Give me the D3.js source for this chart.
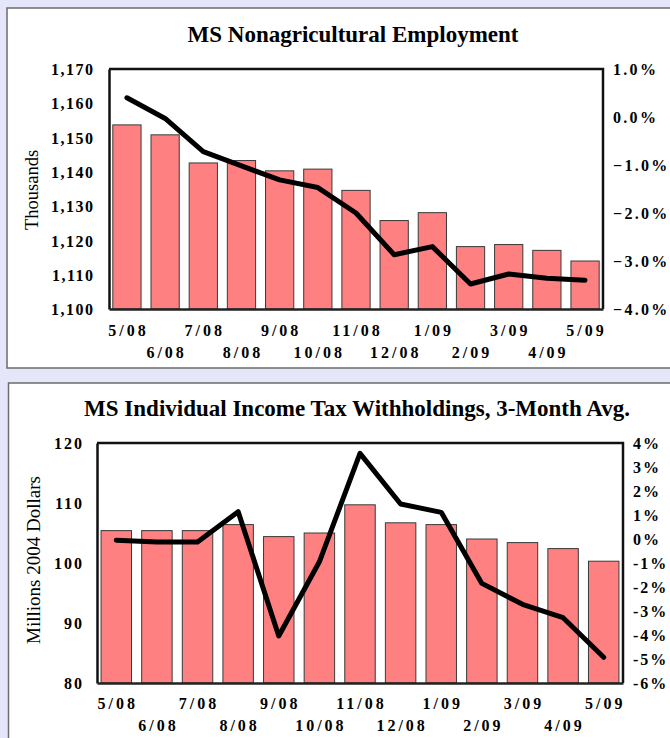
<!DOCTYPE html>
<html>
<head>
<meta charset="utf-8">
<script src="https://cdn.jsdelivr.net/npm/d3@7/dist/d3.min.js"></script>
<style>
  html, body { margin: 0; padding: 0; background: #e6e6fa; }
  svg { display: block; }
  text { font-family: "Liberation Serif", "Times New Roman", serif; fill: #000; }
</style>
</head>
<body>
<svg id="chart" width="670" height="738"></svg>
<script>
// ---------- data ----------
const months = ["5/08","6/08","7/08","8/08","9/08","10/08","11/08","12/08","1/09","2/09","3/09","4/09","5/09"];

// Chart 1: MS Nonagricultural Employment
const empLevels = [1153.7, 1150.8, 1142.6, 1143.3, 1140.3, 1140.8, 1134.6, 1125.8, 1128.1, 1118.2, 1118.8, 1117.1, 1114.0];
const empGrowth = [0.40, -0.03, -0.72, -1.02, -1.31, -1.47, -2.00, -2.87, -2.70, -3.48, -3.27, -3.36, -3.40];
const empLeftTicks = [1100, 1110, 1120, 1130, 1140, 1150, 1160, 1170];
const empRightTicks = [1, 0, -1, -2, -3, -4];

// Chart 2: MS Individual Income Tax Withholdings, 3-Month Avg.
const taxLevels = [105.4, 105.4, 105.4, 106.4, 104.4, 105.0, 109.7, 106.7, 106.4, 104.0, 103.4, 102.4, 100.3];
const taxGrowth = [-0.05, -0.13, -0.13, 1.14, -4.04, -0.95, 3.57, 1.46, 1.11, -1.85, -2.72, -3.28, -4.93];
const taxLeftTicks = [80, 90, 100, 110, 120];
const taxRightTicks = [4, 3, 2, 1, 0, -1, -2, -3, -4, -5, -6];

// ---------- drawing ----------
const svg = d3.select("#chart");
svg.append("rect").attr("width", 670).attr("height", 738).attr("fill", "#e6e6fa");

function drawPanel(cfg) {
  const g = svg.append("g");
  // panel
  g.append("rect")
    .attr("x", cfg.panel[0]).attr("y", cfg.panel[1])
    .attr("width", cfg.panel[2]).attr("height", cfg.panel[3])
    .attr("fill", "#fff").attr("stroke", "#6b6b6b").attr("stroke-width", 1.5);

  const x = d3.scaleBand().domain(months)
    .range([cfg.plot.left, cfg.plot.right])
    .paddingInner(cfg.padInner).paddingOuter(0.1);
  const yL = d3.scaleLinear().domain(cfg.leftDomain).range([cfg.plot.bottom, cfg.plot.top]);
  const yR = d3.scaleLinear().domain(cfg.rightDomain).range([cfg.plot.bottom, cfg.plot.top]);

  // title
  g.append("text")
    .attr("x", cfg.titleX).attr("y", cfg.titleY)
    .attr("text-anchor", "middle")
    .attr("font-size", cfg.titleSize).attr("font-weight", "bold")
    .text(cfg.title);

  // bars
  g.selectAll("rect.bar").data(cfg.levels).enter().append("rect")
    .attr("class", "bar")
    .attr("x", (d, i) => x(months[i]))
    .attr("width", x.bandwidth())
    .attr("y", d => yL(d))
    .attr("height", d => yL(cfg.leftDomain[0]) - yL(d))
    .attr("fill", "#ff8080")
    .attr("stroke", "#3a3a3a").attr("stroke-width", 1);

  // frame top & right
  g.append("path")
    .attr("d", `M${cfg.plot.left},${cfg.plot.top}H${cfg.plot.right}V${cfg.plot.bottom}`)
    .attr("fill", "none").attr("stroke", "#111").attr("stroke-width", 2.5);

  // left axis
  const axL = d3.axisLeft(yL).tickValues(cfg.leftTicks).tickSize(0).tickPadding(0)
    .tickFormat(cfg.leftFormat);
  const gL = g.append("g").attr("transform", `translate(${cfg.plot.left},0)`).call(axL);
  gL.select(".domain").attr("stroke", "#111").attr("stroke-width", 2.5);
  gL.selectAll("text")
    .attr("x", -cfg.leftGap + cfg.tickSpacing)
    .attr("dy", "0.35em")
    .attr("font-size", 16).attr("font-weight", "bold")
    .attr("letter-spacing", cfg.tickSpacing + "px")
    .attr("fill", "#000");

  // right axis
  const axR = d3.axisRight(yR).tickValues(cfg.rightTicks).tickSize(0).tickPadding(0)
    .tickFormat(cfg.rightFormat);
  const gR = g.append("g").attr("transform", `translate(${cfg.plot.right},0)`).call(axR);
  gR.select(".domain").remove();
  gR.selectAll("text")
    .attr("x", 10)
    .attr("dy", "0.35em")
    .attr("font-size", 16).attr("font-weight", "bold")
    .attr("letter-spacing", cfg.rightSpacing + "px")
    .attr("fill", "#000");

  // bottom axis
  const axB = d3.axisBottom(x).tickSize(0).tickPadding(0);
  const gB = g.append("g").attr("transform", `translate(0,${cfg.plot.bottom})`).call(axB);
  gB.select(".domain").attr("stroke", "#222").attr("stroke-width", 2.5);
  gB.selectAll("text")
    .attr("y", (d, i) => i % 2 === 0 ? cfg.row1 : cfg.row2)
    .attr("dy", "0.35em")
    .attr("dx", "1.5px")
    .attr("font-size", 16).attr("font-weight", "bold")
    .attr("letter-spacing", "3px")
    .attr("fill", "#000");

  // line
  const line = d3.line()
    .x((d, i) => x(months[i]) + x.bandwidth() / 2)
    .y(d => yR(d));
  g.append("path").datum(cfg.growth)
    .attr("d", line)
    .attr("fill", "none").attr("stroke", "#000")
    .attr("stroke-width", 5).attr("stroke-linejoin", "round").attr("stroke-linecap", "round");

  // y axis title
  g.append("text")
    .attr("transform", `translate(${cfg.yTitleX},${cfg.yTitleY}) rotate(-90)`)
    .attr("text-anchor", "middle")
    .attr("dy", "0.35em")
    .attr("font-size", cfg.yTitleSize)
    .text(cfg.yTitle);
}

drawPanel({
  panel: [7, 8, 680, 360],
  plot: { left: 109, right: 603, top: 69, bottom: 309 },
  padInner: 0.26,
  title: "MS Nonagricultural Employment",
  titleX: 353, titleY: 42, titleSize: 23,
  levels: empLevels, growth: empGrowth,
  leftDomain: [1100, 1170], rightDomain: [-4, 1],
  leftTicks: empLeftTicks, rightTicks: empRightTicks,
  leftFormat: d3.format(",d"),
  rightFormat: d => d3.format(".1f")(d) + "%",
  leftGap: 16, tickSpacing: 1.5, rightSpacing: 2.3,
  row1: 21, row2: 43,
  yTitle: "Thousands", yTitleX: 32, yTitleY: 190, yTitleSize: 18.5
});

drawPanel({
  panel: [8.5, 383, 680, 380],
  plot: { left: 97, right: 623, top: 443, bottom: 683 },
  padInner: 0.25,
  title: "MS Individual Income Tax Withholdings, 3-Month Avg.",
  titleX: 357, titleY: 416, titleSize: 23,
  levels: taxLevels, growth: taxGrowth,
  leftDomain: [80, 120], rightDomain: [-6, 4],
  leftTicks: taxLeftTicks, rightTicks: taxRightTicks,
  leftFormat: d3.format("d"),
  rightFormat: d => d + "%",
  leftGap: 15, tickSpacing: 2, rightSpacing: 2,
  row1: 20, row2: 42,
  yTitle: "Millions 2004 Dollars", yTitleX: 33, yTitleY: 560, yTitleSize: 19
});
</script>
</body>
</html>
